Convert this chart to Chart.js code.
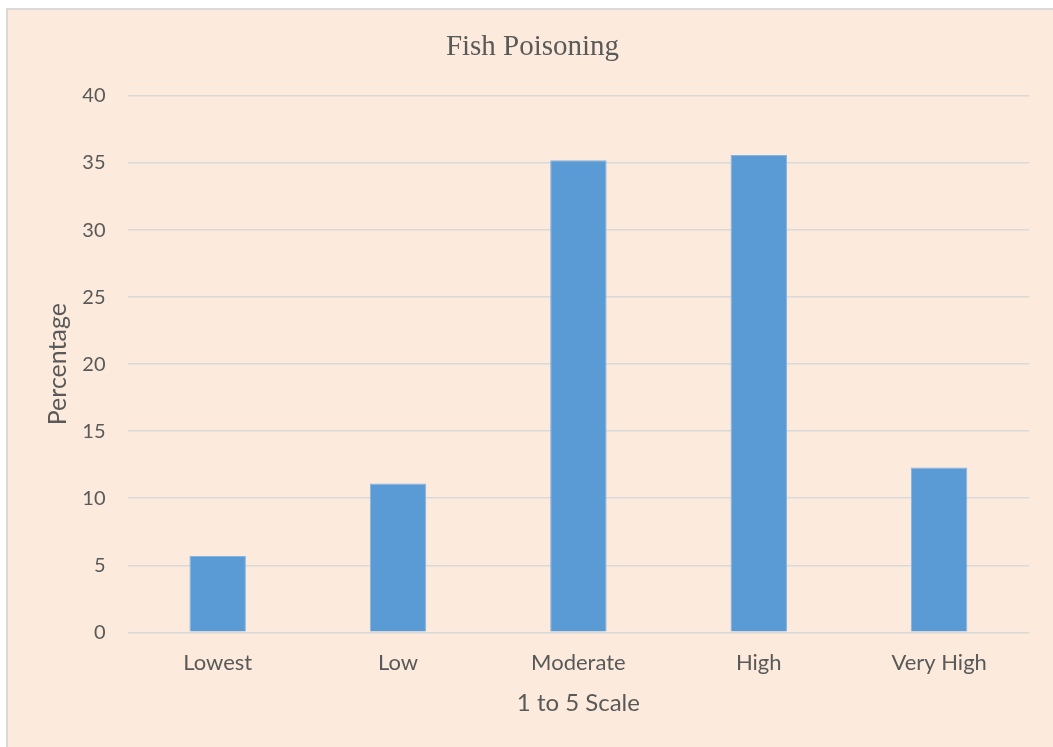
<!DOCTYPE html>
<html lang="en">

<head>
    <meta charset="UTF-8">
    <title>Fish Poisoning</title>
    <script src="https://cdn.jsdelivr.net/npm/chart.js@4.4.0/dist/chart.umd.min.js"></script>
    <style>
        html, body { margin: 0; padding: 0; background: #fff; overflow: hidden; }
        #frame {
            position: absolute; left: 6px; top: 8px; width: 1100px; height: 800px;
            background: #fcebdc; border-left: 2px solid #d9d9d9; border-top: 2px solid #d9d9d9;
        }
        #chart { position: absolute; left: 0; top: 0; }
    </style>
</head>

<body>
    <div id="frame"></div>
    <canvas id="chart" width="1053" height="747"></canvas>

    <script>
        // data
        const categories = ['Lowest', 'Low', 'Moderate', 'High', 'Very High'];
        const percentages = [5.7, 11.1, 35.2, 35.6, 12.3];
        const yMin = 0;
        const yMax = 40;
        const yStep = 5;

        const textColor = '#595959';
        const sans = 'Lato, "Open Sans", sans-serif';

        const ctx = document.getElementById('chart').getContext('2d');
        new Chart(ctx, {
            type: 'bar',
            data: {
                labels: categories,
                datasets: [{
                    label: 'Percentage',
                    data: percentages,
                    backgroundColor: '#5b9bd5',
                    borderColor: '#86b4e0',
                    borderWidth: 1,
                    barPercentage: 0.313,
                    categoryPercentage: 1
                }]
            },
            options: {
                responsive: false,
                animation: false,
                // left padding keeps the title centred on the frame, not the canvas
                layout: { padding: { left: 35.7, right: 23.7, top: 0, bottom: 0 } },
                plugins: {
                    legend: { display: false },
                    tooltip: { enabled: false },
                    title: {
                        display: true,
                        text: 'Fish Poisoning',
                        color: textColor,
                        font: { family: '"Liberation Serif", "Times New Roman", serif', size: 29, weight: 'normal' },
                        padding: { top: 29.5, bottom: 31.7 }
                    }
                },
                scales: {
                    x: {
                        grid: { display: false, drawTicks: false },
                        border: { display: false },
                        ticks: { color: textColor, font: { family: sans, size: 22 }, padding: 17.5 },
                        title: {
                            display: true,
                            text: '1 to 5 Scale',
                            color: textColor,
                            font: { family: sans, size: 24 },
                            padding: { top: 10, bottom: 29.6 }
                        },
                        afterFit: function (scale) { scale.height = 114.7; }
                    },
                    y: {
                        min: yMin,
                        max: yMax,
                        ticks: { stepSize: yStep, color: textColor, font: { family: sans, size: 20 }, padding: 22 },
                        grid: { color: '#d9d9d9', lineWidth: 1.5, drawTicks: false },
                        border: { display: false },
                        title: {
                            display: true,
                            text: 'Percentage',
                            color: textColor,
                            font: { family: sans, size: 25 },
                            padding: { top: 7.3, bottom: 0 }
                        },
                        afterFit: function (scale) { scale.width = 91.8; }
                    }
                }
            }
        });
    </script>
</body>

</html>
